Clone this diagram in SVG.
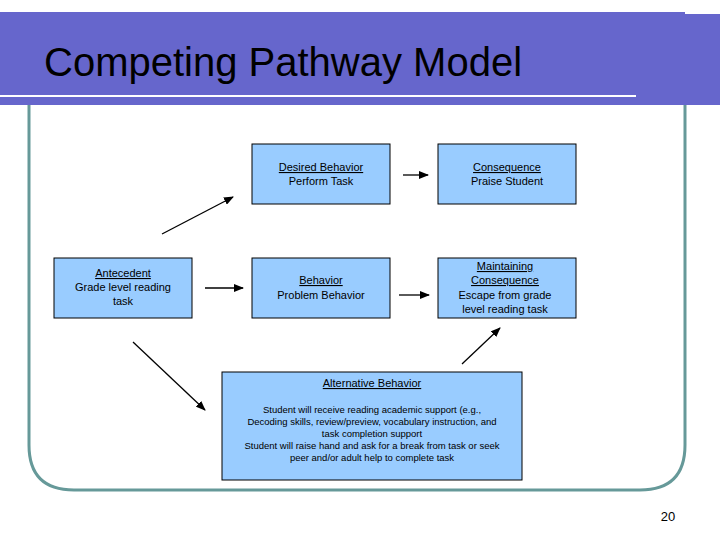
<svg xmlns="http://www.w3.org/2000/svg" width="720" height="540" viewBox="0 0 720 540">
<defs>
<marker id="ah" markerWidth="10" markerHeight="8" refX="9" refY="4" orient="auto" markerUnits="userSpaceOnUse"><path d="M0,0 L10,4 L0,8 Z" fill="#000"/></marker>
<style>
.box{fill:#99ccff;stroke:#000;stroke-width:1}
.t{font-family:"Liberation Sans",Arial,sans-serif;font-size:11px;fill:#000;text-anchor:middle}
.s{font-family:"Liberation Sans",Arial,sans-serif;font-size:9.5px;fill:#000;text-anchor:middle}
.u{text-decoration:underline}
.c{stroke:#000;stroke-width:1.3;fill:none;marker-end:url(#ah)}
</style>
</defs>
<rect width="720" height="540" fill="#fff"/>
<path d="M29,105 V445 Q29,490 74,490 H640 Q685,490 685,445 V105" fill="none" stroke="#669999" stroke-width="3"/>
<rect x="0" y="12" width="685" height="93" fill="#6666cc"/>
<rect x="685" y="14" width="35" height="91" fill="#6666cc"/>
<line x1="0" y1="96" x2="636" y2="96" stroke="#fff" stroke-width="2"/>
<text x="44" y="76" font-family="Liberation Sans,Arial,sans-serif" font-size="40" fill="#000">Competing Pathway Model</text>
<g id="desired"><rect class="box" x="252" y="144" width="138" height="60"/>
<text class="t" x="321" y="171"><tspan class="u">Desired Behavior</tspan></text><text class="t" x="321" y="185">Perform Task</text></g>
<g id="consequence"><rect class="box" x="438" y="144" width="138" height="60"/>
<text class="t" x="507" y="171"><tspan class="u">Consequence</tspan></text><text class="t" x="507" y="185">Praise Student</text></g>
<g id="antecedent"><rect class="box" x="54" y="258" width="138" height="60"/>
<text class="t" x="123" y="277"><tspan class="u">Antecedent</tspan></text><text class="t" x="123" y="291">Grade level reading</text><text class="t" x="123" y="305">task</text></g>
<g id="behavior"><rect class="box" x="252" y="258" width="138" height="60"/>
<text class="t" x="321" y="284"><tspan class="u">Behavior</tspan></text><text class="t" x="321" y="299">Problem Behavior</text></g>
<g id="maintaining"><rect class="box" x="438" y="258" width="138" height="60"/>
<text class="t" x="505" y="270"><tspan class="u">Maintaining</tspan></text><text class="t" x="505" y="284"><tspan class="u">Consequence</tspan></text><text class="t" x="505" y="299">Escape from grade</text><text class="t" x="505" y="313">level reading task</text></g>
<g id="alternative"><rect class="box" x="222" y="372" width="300" height="108"/>
<text class="t" x="372" y="387"><tspan class="u">Alternative Behavior</tspan></text>
<text class="s" x="372" y="413">Student will receive reading academic support (e.g.,</text>
<text class="s" x="372" y="425">Decoding skills, review/preview, vocabulary instruction, and</text>
<text class="s" x="372" y="437">task completion support</text>
<text class="s" x="372" y="449">Student will raise hand and ask for a break from task or seek</text>
<text class="s" x="372" y="461">peer and/or adult help to complete task</text></g>
<g id="connectors">
<line class="c" x1="403" y1="175" x2="428" y2="175"/>
<line class="c" x1="162" y1="234" x2="233" y2="197"/>
<line class="c" x1="205" y1="288" x2="243" y2="288"/>
<line class="c" x1="399" y1="295" x2="429" y2="295"/>
<line class="c" x1="133" y1="342" x2="205" y2="410"/>
<line class="c" x1="462" y1="364" x2="500" y2="328"/>
</g>
<text x="668" y="521" font-family="Liberation Sans,Arial,sans-serif" font-size="13" text-anchor="middle">20</text>
</svg>
